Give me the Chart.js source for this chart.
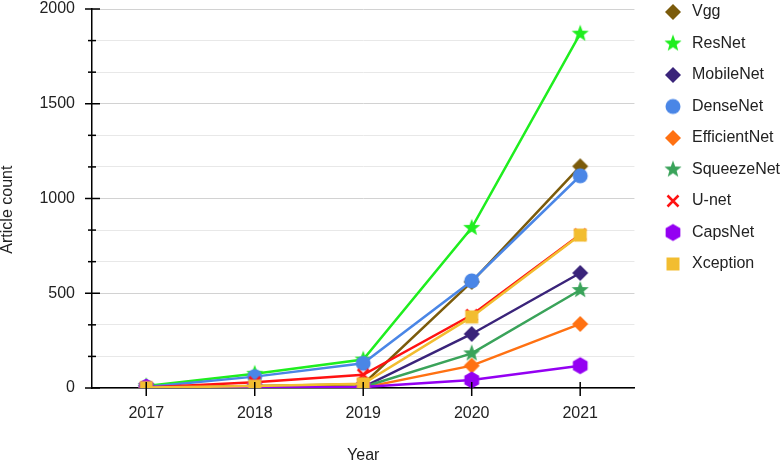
<!DOCTYPE html>
<html>
<head>
<meta charset="utf-8">
<script src="https://cdn.jsdelivr.net/npm/chart.js@4"></script>
<style>
  html, body { margin: 0; padding: 0; background: #fff; }
</style>
</head>
<body>
<canvas id="myChart" width="782" height="462"></canvas>
<script>
const years = [2017, 2018, 2019, 2020, 2021];
const yTicks = [0, 500, 1000, 1500, 2000];

const names = ["Vgg", "ResNet", "MobileNet", "DenseNet", "EfficientNet", "SqueezeNet", "U-net", "CapsNet", "Xception"];
const vgg = [2, 10, 20, 560, 1170];
const resnet = [10, 75, 150, 845, 1870];
const mobilenet = [0, 2, 5, 285, 607];
const densenet = [5, 60, 130, 565, 1120];
const efficientnet = [0, 0, 2, 118, 338];
const squeezenet = [0, 2, 5, 183, 517];
const unet = [3, 30, 70, 385, 810];
const capsnet = [5, 3, 5, 42, 118];
const xception = [2, 10, 22, 375, 807];

const colors = ["#7b5b0b", "#1fee1f", "#3a247a", "#4a86e6", "#ff7112", "#3aa35a", "#ff1212", "#9400f2", "#f2bd30"];
const shapes = ["diamond", "star", "diamond", "circle", "diamond", "star", "cross", "hexagon", "square"];
const series = [vgg, resnet, mobilenet, densenet, efficientnet, squeezenet, unet, capsnet, xception];

// small canvases used as point styles
const makeMarker = (shape, color) => {
  const size = 22;
  const c = document.createElement("canvas");
  c.width = size;
  c.height = size;
  const ctx = c.getContext("2d");
  ctx.translate(size / 2, size / 2);
  ctx.fillStyle = color;
  ctx.strokeStyle = color;
  ctx.beginPath();
  if (shape == "diamond") {
    ctx.moveTo(0, -8); ctx.lineTo(8, 0); ctx.lineTo(0, 8); ctx.lineTo(-8, 0);
    ctx.closePath(); ctx.fill();
  } else if (shape == "circle") {
    ctx.arc(0, 0, 7.5, 0, Math.PI * 2); ctx.fill();
  } else if (shape == "square") {
    ctx.rect(-6.5, -6.5, 13, 13); ctx.fill();
  } else if (shape == "hexagon") {
    for (let i = 0; i < 6; i++) {
      const a = -Math.PI / 2 + i * Math.PI / 3;
      ctx.lineTo(Math.cos(a) * 8.5, Math.sin(a) * 8.5);
    }
    ctx.closePath(); ctx.fill();
  } else if (shape == "star") {
    for (let i = 0; i < 10; i++) {
      const r = i % 2 ? 3.8 : 9;
      const a = -Math.PI / 2 + i * Math.PI / 5;
      ctx.lineTo(Math.cos(a) * r, Math.sin(a) * r);
    }
    ctx.closePath(); ctx.fill();
  } else if (shape == "cross") {
    ctx.lineWidth = 2.5;
    ctx.moveTo(-5.5, -5.5); ctx.lineTo(5.5, 5.5);
    ctx.moveTo(5.5, -5.5); ctx.lineTo(-5.5, 5.5);
    ctx.stroke();
  }
  return c;
};

const datasets = names.map((name, i) => ({
  label: name,
  data: series[i].map((v, j) => ({ x: years[j], y: v })),
  borderColor: colors[i],
  backgroundColor: colors[i],
  borderWidth: 2.5,
  pointStyle: makeMarker(shapes[i], colors[i]),
  pointRadius: 8,
  tension: 0,
  fill: false,
  order: -i
}));

// crossing tick marks on both axes
const tickMarks = {
  id: "tickMarks",
  afterDatasetsDraw(chart) {
    const { ctx, chartArea, scales } = chart;
    ctx.save();
    ctx.strokeStyle = "#000";
    ctx.lineWidth = 1.5;
    scales.y.ticks.forEach(t => {
      const py = scales.y.getPixelForValue(t.value);
      const a = t.major ? 7 : 4;
      const b = t.major ? 8 : 4;
      ctx.beginPath();
      ctx.moveTo(chartArea.left - a, py);
      ctx.lineTo(chartArea.left + b, py);
      ctx.stroke();
    });
    years.forEach(yr => {
      const px = scales.x.getPixelForValue(yr);
      ctx.beginPath();
      ctx.moveTo(px, chartArea.bottom - 6);
      ctx.lineTo(px, chartArea.bottom + 8);
      ctx.stroke();
    });
    ctx.restore();
  }
};

const legendPos = {
  id: "legendPos",
  afterLayout(chart) {
    const lg = chart.legend;
    const dx = 646.5 - lg.left;
    lg.left += dx;
    lg.right += dx;
    const dy = -11.5 - lg.top;
    lg.top += dy;
    lg.bottom += dy;
  }
};

Chart.defaults.font.family = '"Liberation Sans", Arial, sans-serif';
Chart.defaults.font.size = 16;
Chart.defaults.color = "#222";

const config = {
  type: "line",
  data: { datasets },
  options: {
    responsive: false,
    animation: false,
    devicePixelRatio: 1,
    layout: { padding: { right: 4 }, autoPadding: false },
    plugins: {
      tooltip: { enabled: false },
      legend: {
        position: "right",
        align: "start",
        maxWidth: 148,
        labels: {
          usePointStyle: true,
          pointStyleWidth: 22,
          padding: 15.5,
          color: "#222",
          font: { size: 16 },
          sort: (a, b) => a.datasetIndex - b.datasetIndex
        }
      }
    },
    scales: {
      x: {
        type: "linear",
        min: 2016.5,
        max: 2021.5,
        afterBuildTicks: axis => { axis.ticks = years.map(v => ({ value: v })); },
        afterFit: axis => { axis.height = 74; },
        grid: { display: false },
        border: { color: "#000", width: 1.5 },
        ticks: { padding: 8, callback: v => String(v), color: "#222" },
        title: { display: true, text: "Year", color: "#222", padding: { top: 0, bottom: -3 }, font: { size: 16 } }
      },
      y: {
        min: 0,
        max: 2000,
        afterBuildTicks: axis => {
          const t = [];
          yTicks.forEach((v, i) => {
            t.push({ value: v, major: true });
            if (i < yTicks.length - 1) {
              const step = (yTicks[i + 1] - v) / 3;
              t.push({ value: v + step }, { value: v + 2 * step });
            }
          });
          axis.ticks = t;
        },
        afterFit: axis => { axis.width = 92; axis.paddingTop = 9; },
        grid: {
          drawTicks: false,
          color: c => (c.tick && c.tick.major) ? "#d2d2d2" : "#e8e8e8",
          lineWidth: 1
        },
        border: { color: "#000", width: 1.5 },
        ticks: {
          autoSkip: false,
          padding: 17,
          color: "#222",
          callback: v => yTicks.includes(v) ? String(v) : ""
        },
        title: { display: true, text: "Article count     ", color: "#222", padding: { top: -2, bottom: 0 }, font: { size: 16 } }
      }
    }
  },
  plugins: [tickMarks, legendPos]
};

new Chart(document.getElementById("myChart"), config);
</script>
</body>
</html>
